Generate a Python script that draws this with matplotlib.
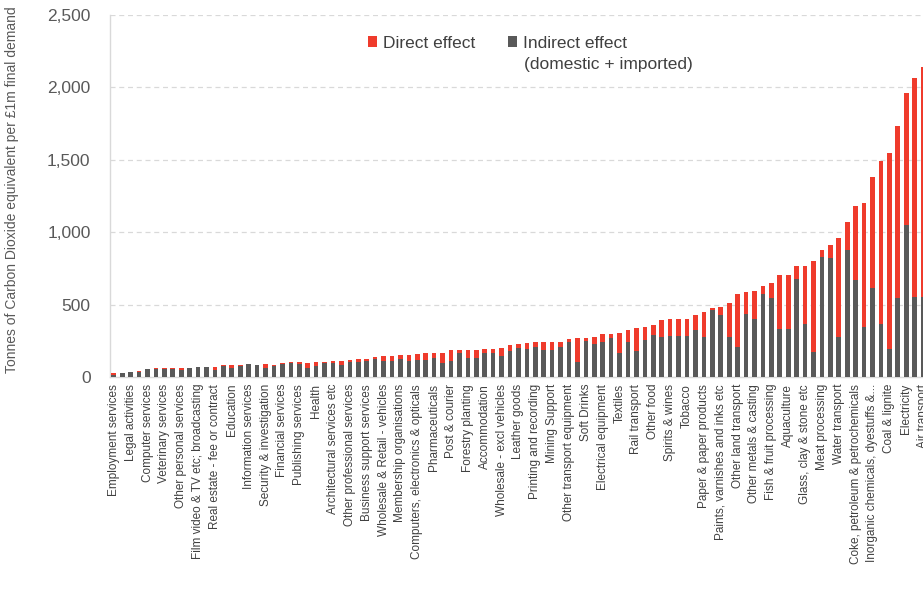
import numpy as np
import matplotlib
matplotlib.use("Agg")
import matplotlib.pyplot as plt
from matplotlib.ticker import FuncFormatter

plt.rcParams['font.family'] = ['Liberation Sans', 'DejaVu Sans']

# Sector labels (only every other sector is labelled on the axis)
labels = [
    "Employment services", "Legal activities", "Computer services",
    "Veterinary services", "Other personal services",
    "Film video & TV etc; broadcasting", "Real estate - fee or contract",
    "Education", "Information services", "Security & investigation",
    "Financial services", "Publishing services", "Health",
    "Architectural services etc", "Other professional services",
    "Business support services", "Wholesale & Retail - vehicles",
    "Membership organisations", "Computers, electronics & opticals",
    "Pharmaceuticals", "Post & courier", "Forestry planting",
    "Accommodation", "Wholesale - excl vehicles", "Leather goods",
    "Printing and recording", "Mining Support", "Other transport equipment",
    "Soft Drinks", "Electrical equipment", "Textiles", "Rail transport",
    "Other food", "Spirits & wines", "Tobacco", "Paper & paper products",
    "Paints, varnishes and inks etc", "Other land transport",
    "Other metals & casting", "Fish & fruit processing", "Aquaculture",
    "Glass, clay & stone etc", "Meat processing", "Water transport",
    "Coke, petroleum & petrochemicals", "Inorganic chemicals, dyestuffs &...",
    "Coal & lignite", "Electricity", "Air transport",
]

# Indirect effect (domestic + imported), tCO2e per £1m
indirect = [
    15, 25, 32, 32, 55, 57, 57, 55, 46, 60,
    69, 67, 51, 76, 60, 76, 92, 81, 60, 74,
    90, 97, 93, 63, 75, 94, 99, 81, 106, 106,
    110, 122, 108, 108, 127, 108, 120, 120, 134, 94,
    108, 168, 134, 134, 163, 163, 148, 182, 203, 193,
    207, 189, 189, 207, 242, 106, 249, 228, 242, 272,
    168, 242, 182, 258, 290, 279, 285, 285, 285, 327,
    279, 465, 425, 279, 209, 433, 401, 573, 548, 329,
    329, 674, 364, 175, 831, 824, 274, 879, 668, 348,
    612, 364, 191, 548, 1052, 555, 550,
]

# Direct effect, tCO2e per £1m
direct = [
    10, 0, 5, 7, 3, 7, 7, 9, 18, 4,
    0, 2, 20, 5, 21, 5, 0, 4, 27, 11,
    4, 7, 10, 33, 28, 7, 9, 27, 11, 16,
    12, 14, 37, 39, 25, 44, 39, 43, 29, 69,
    81, 21, 55, 55, 33, 33, 52, 39, 27, 39,
    35, 53, 53, 35, 18, 161, 18, 46, 53, 23,
    134, 80, 159, 90, 69, 115, 116, 116, 116, 99,
    169, 9, 56, 234, 364, 154, 193, 55, 99, 375,
    375, 93, 403, 624, 48, 88, 684, 191, 511, 856,
    772, 1128, 1358, 1185, 907, 1512, 1589,
]

red = '#EF3B2C'
grey = '#595959'
light = '#D9D9D9'

n = len(indirect)
x = np.arange(n)

fig = plt.figure(figsize=(9.23, 6.05), dpi=100)
unit = 8.43 / 923  # one category in figure fraction
ax = fig.add_axes([110 / 923, (605 - 377) / 605, unit * (n + 1), 362 / 605])

ax.bar(x, indirect, width=0.55, color=grey, label='Indirect effect', zorder=3)
ax.bar(x, direct, width=0.55, bottom=indirect, color=red,
       label='Direct effect', zorder=3)

ax.set_xlim(-0.45, n + 0.55)
ax.set_ylim(0, 2500)
ax.set_yticks(np.arange(0, 2501, 500))
ax.yaxis.set_major_formatter(FuncFormatter(lambda v, p: f"{int(v):,}"))
ax.yaxis.grid(True, color=light, linestyle=(0, (4, 3)), linewidth=0.9, zorder=0)

ax.set_xticks(x[::2])
ax.set_xticklabels(labels, rotation=90, fontsize=8.5, color='#404040')
ax.tick_params(axis='x', length=0, pad=5)
ax.tick_params(axis='y', length=0, pad=14, labelsize=12.5, labelcolor='#595959')

for s in ['top', 'right']:
    ax.spines[s].set_visible(False)
for s in ['left', 'bottom']:
    ax.spines[s].set_color(light)
    ax.spines[s].set_linewidth(1.0)

fig.text(12 / 923, (605 - 190) / 605,
         "Tonnes of Carbon Dioxide equivalent per £1m final demand",
         rotation=90, ha='center', va='center', fontsize=10, color='#595959')

h, l = ax.get_legend_handles_labels()
leg = fig.legend(h[::-1], l[::-1], ncol=2, frameon=False, fontsize=12.5,
                 loc='center left', bbox_to_anchor=(368 / 923, (605 - 43) / 605),
                 handlelength=0.52, handleheight=0.55, handletextpad=0.35,
                 columnspacing=1.9, borderpad=0, borderaxespad=0)
for t in leg.get_texts():
    t.set_color('#404040')
fig.text(524 / 923, (605 - 64) / 605, "(domestic + imported)",
         ha='left', va='center', fontsize=12.5, color='#404040')

fig.savefig("out.png", dpi=100)
